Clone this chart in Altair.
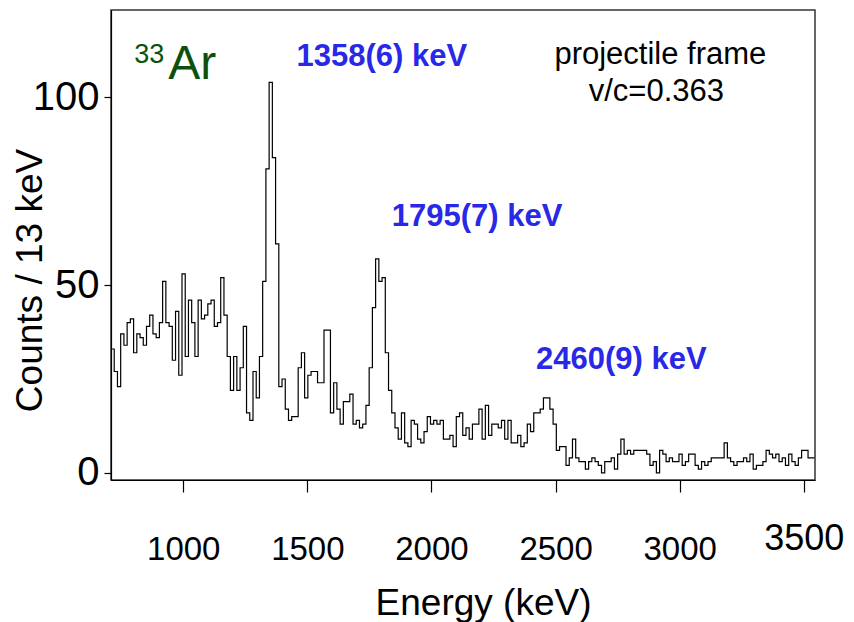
import altair as alt
import pandas as pd

# ---- histogram data (13 keV bins, first bin starts at 709 keV) ----
BIN_START = 709
BIN_WIDTH = 13
low_energy_counts = [33, 27, 23, 37, 34, 40, 41, 32, 37, 36, 34, 39, 42, 37, 36, 40, 51, 40, 39, 30,
                     43, 26, 53, 31, 46, 40, 31, 46, 41]
pre_peak_counts = [42, 45, 46, 39, 40, 52, 42, 31, 22, 31, 22, 28, 39, 16, 14, 27, 20, 31, 51]
peaks_counts = [81, 104, 84, 61, 23, 25, 17, 14, 15, 15, 28, 32, 20, 26, 27, 27, 24, 24, 38, 38,
                16, 24, 17, 13, 19, 19, 21, 13, 14, 12, 13, 18, 28, 44, 57, 51, 52, 32, 22, 16,
                12, 9, 16, 8, 7, 14, 13, 9, 8, 11, 15]
mid_counts = [13, 14, 13, 14, 9, 9, 10, 7, 15, 16, 10, 12, 9, 13, 13, 17, 9, 18, 10, 13, 13]
third_peak_counts = [12, 14, 9, 14, 8, 8, 10, 7, 8, 13, 11, 16, 16, 17, 20, 20, 17, 13]
tail_counts = [6, 7, 7, 2, 4, 9, 4, 3, 3, 1, 3, 4, 3, 2, 0, 3, 3, 4]
high_energy_counts = [1, 5, 9, 5, 6, 5, 6, 6, 6, 6, 5, 2, 3, 0, 6, 5, 3, 4, 3, 3,
                      5, 2, 3, 5, 5, 2, 1, 3, 2, 3, 4, 4, 4, 4, 8, 4, 3, 2, 3, 3,
                      4, 3, 5, 1, 2, 2, 3, 6, 5, 4, 5, 3, 4, 2, 5, 3, 2, 4, 6, 6, 4, 4]

counts = (low_energy_counts + pre_peak_counts + peaks_counts + mid_counts
          + third_peak_counts + tail_counts + high_energy_counts)
edges = [BIN_START + BIN_WIDTH * i for i in range(len(counts) + 1)]
hist = pd.DataFrame({"energy": edges, "counts": counts + [counts[-1]]})

x_ticks = [1000, 1500, 2000, 2500, 3000, 3500]
y_ticks = [0, 50, 100]

# ---- annotations ----
peak_labels = ["1358(6) keV", "1795(7) keV", "2460(9) keV"]
peak_label_x = [1800, 2184, 2765]
peak_label_y = [110.7, 68.1, 30.0]

frame_labels = ["projectile frame", "v/c=0.363"]
frame_label_x = [2922, 2906]
frame_label_y = [111.3, 101.4]

FONT = "Liberation Sans"

xscale = alt.Scale(domain=[709, 3545], nice=False, zero=False)
yscale = alt.Scale(domain=[-1.9, 123.3], nice=False, zero=False)

line = alt.Chart(hist).mark_line(
    interpolate="step-after", color="black", strokeWidth=1.2
).encode(
    x=alt.X("energy:Q", scale=xscale,
            axis=alt.Axis(values=x_ticks, format="d", title="Energy (keV)", tickSize=12, grid=False,
                          labelFontSize={"condition": {"test": "datum.value == 3500", "value": 36}, "value": 33},
                          labelBaseline={"condition": {"test": "datum.value == 3500", "value": "alphabetic"}, "value": "middle"},
                          labelPadding=57, labelOverlap=False,
                          labelFlush=False, labelBound=False,
                          titleFontSize=37, titleX=372, titleY=123,
                          titleBaseline="middle", titleAlign="center")),
    y=alt.Y("counts:Q", scale=yscale,
            axis=alt.Axis(values=y_ticks, format="d", title="Counts / 13 keV", tickSize=7, grid=False,
                          labelFontSize=40, labelPadding=5, labelOverlap=False,
                          labelFlush=False, labelBound=False,
                          titleFontSize=37, titleX=-81, titleY=270, titleAngle=270,
                          titleBaseline="middle", titleAlign="center")),
)

peak_df = pd.DataFrame({"e": peak_label_x, "c": peak_label_y, "t": peak_labels})
peaks = alt.Chart(peak_df).mark_text(
    font=FONT, fontSize=31, fontWeight="bold", color="#2828e6", align="center", baseline="middle"
).encode(x=alt.X("e:Q", scale=xscale), y=alt.Y("c:Q", scale=yscale), text="t:N")

frame_df = pd.DataFrame({"e": frame_label_x, "c": frame_label_y, "t": frame_labels})
frame_txt = alt.Chart(frame_df).mark_text(
    font=FONT, fontSize=31, color="black", align="center", baseline="middle"
).encode(x=alt.X("e:Q", scale=xscale), y=alt.Y("c:Q", scale=yscale), text="t:N")

iso_df = pd.DataFrame({"e": [863, 1036], "c": [111.3, 108.6], "t": ["33", "Ar"], "s": [27, 48]})
iso = alt.Chart(iso_df).mark_text(
    font=FONT, color="#0d500d", align="center", baseline="middle"
).encode(x=alt.X("e:Q", scale=xscale), y=alt.Y("c:Q", scale=yscale), text="t:N",
         size=alt.Size("s:Q", scale=None, legend=None))

chart = alt.layer(line, peaks, frame_txt, iso).properties(
    width=704, height=470,
    padding={"left": 111, "top": 10, "right": 39, "bottom": 142},
    autosize="none",
    background="white",
).configure_view(
    stroke="#333333", strokeWidth=1.5
).configure_axis(
    grid=False, domainColor="black", tickColor="black", labelColor="black",
    titleColor="black", labelFont=FONT, titleFont=FONT, titleFontWeight="normal",
    domainWidth=1.2, tickWidth=1.2
)

chart.save("out.html", embed_options={"renderer": "svg", "actions": False})
